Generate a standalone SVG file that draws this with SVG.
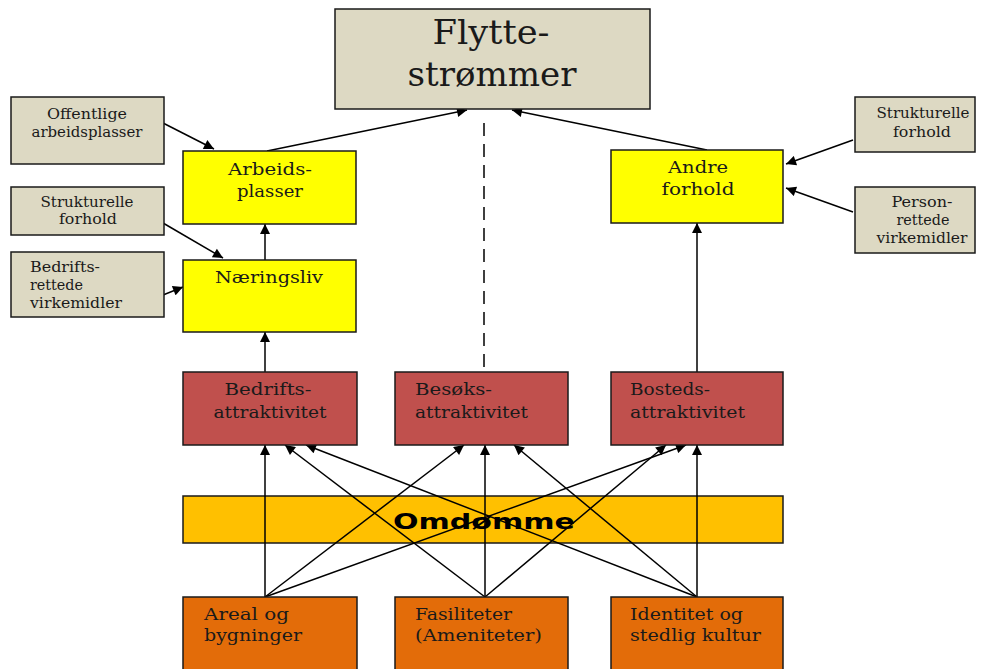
<svg xmlns="http://www.w3.org/2000/svg" width="981" height="669" viewBox="0 0 981 669">
<style>
.box{stroke:#1a1a1a;stroke-width:1.5}
.gray{fill:#DDD9C3}
.yel{fill:#FFFF00}
.red{fill:#C0504D}
.omd{fill:#FFC000}
.org{fill:#E36C09}
text{font-family:"DejaVu Serif","Liberation Serif",serif;fill:#1a1a1a}
.s{font-size:14px}
.m{font-size:16px}
.t{font-size:33px}
.ln{stroke:#000;stroke-width:1.5;fill:none}
</style>
<defs>
<marker id="ah" viewBox="0 0 10 10" refX="10" refY="5" markerWidth="12" markerHeight="10" markerUnits="userSpaceOnUse" orient="auto">
<path d="M0,0 L10,5 L0,10 z" fill="#000"/>
</marker>
</defs>
<rect width="981" height="669" fill="#fff"/>

<g id="omdomme">
<rect class="box omd" x="183" y="496" width="600" height="47"/>
<text x="484" y="529" text-anchor="middle" style="font-family:'DejaVu Sans','Liberation Sans',sans-serif;font-size:22px;font-weight:bold;fill:#000" textLength="182" lengthAdjust="spacingAndGlyphs">Omdømme</text>
</g>

<g id="connectors">
<line class="ln" x1="267" y1="151" x2="467" y2="110" marker-end="url(#ah)"/>
<line class="ln" x1="707" y1="150" x2="512" y2="110" marker-end="url(#ah)"/>
<line class="ln" x1="484" y1="123" x2="484" y2="372" stroke-dasharray="13,8"/>
<line class="ln" x1="163" y1="123" x2="214" y2="149" marker-end="url(#ah)"/>
<line class="ln" x1="163" y1="223" x2="223" y2="258" marker-end="url(#ah)"/>
<line class="ln" x1="163" y1="295" x2="183" y2="287" marker-end="url(#ah)"/>
<line class="ln" x1="265" y1="260" x2="265" y2="224" marker-end="url(#ah)"/>
<line class="ln" x1="265" y1="372" x2="265" y2="332" marker-end="url(#ah)"/>
<line class="ln" x1="853" y1="140" x2="786" y2="164" marker-end="url(#ah)"/>
<line class="ln" x1="853" y1="212" x2="786" y2="188" marker-end="url(#ah)"/>
<line class="ln" x1="697" y1="372" x2="697" y2="223" marker-end="url(#ah)"/>
<line class="ln" x1="265" y1="597" x2="265" y2="445" marker-end="url(#ah)"/>
<line class="ln" x1="265" y1="597" x2="464" y2="445" marker-end="url(#ah)"/>
<line class="ln" x1="265" y1="597" x2="686" y2="445" marker-end="url(#ah)"/>
<line class="ln" x1="485" y1="597" x2="285" y2="445" marker-end="url(#ah)"/>
<line class="ln" x1="485" y1="597" x2="485" y2="445" marker-end="url(#ah)"/>
<line class="ln" x1="485" y1="597" x2="666" y2="445" marker-end="url(#ah)"/>
<line class="ln" x1="697" y1="597" x2="306" y2="445" marker-end="url(#ah)"/>
<line class="ln" x1="697" y1="597" x2="514" y2="445" marker-end="url(#ah)"/>
<line class="ln" x1="697" y1="597" x2="697" y2="445" marker-end="url(#ah)"/>
</g>

<g id="flyttestrommer">
<rect class="box gray" x="335" y="9" width="315" height="100"/>
<text class="t" x="491" y="44" text-anchor="middle" textLength="117" lengthAdjust="spacingAndGlyphs">Flytte-</text>
<text class="t" x="492" y="86" text-anchor="middle" textLength="169" lengthAdjust="spacingAndGlyphs">strømmer</text>
</g>

<g id="offentlige">
<rect class="box gray" x="11" y="97" width="153" height="67"/>
<text class="s" x="87" y="119" text-anchor="middle" textLength="80" lengthAdjust="spacingAndGlyphs">Offentlige</text>
<text class="s" x="87" y="137" text-anchor="middle" textLength="111" lengthAdjust="spacingAndGlyphs">arbeidsplasser</text>
</g>

<g id="strukturelle-venstre">
<rect class="box gray" x="11" y="187" width="153" height="48"/>
<text class="s" x="87" y="207" text-anchor="middle" textLength="93" lengthAdjust="spacingAndGlyphs">Strukturelle</text>
<text class="s" x="88" y="224" text-anchor="middle" textLength="58" lengthAdjust="spacingAndGlyphs">forhold</text>
</g>

<g id="bedriftsrettede">
<rect class="box gray" x="11" y="252" width="153" height="65"/>
<text class="s" x="30" y="272" textLength="70" lengthAdjust="spacingAndGlyphs">Bedrifts-</text>
<text class="s" x="30" y="290" textLength="53" lengthAdjust="spacingAndGlyphs">rettede</text>
<text class="s" x="30" y="308" textLength="92" lengthAdjust="spacingAndGlyphs">virkemidler</text>
</g>

<g id="arbeidsplasser">
<rect class="box yel" x="183" y="151" width="173" height="73"/>
<text class="m" x="270" y="175" text-anchor="middle" textLength="84" lengthAdjust="spacingAndGlyphs">Arbeids-</text>
<text class="m" x="270" y="197" text-anchor="middle" textLength="66" lengthAdjust="spacingAndGlyphs">plasser</text>
</g>

<g id="naeringsliv">
<rect class="box yel" x="183" y="260" width="173" height="72"/>
<text class="m" x="269" y="283" text-anchor="middle" textLength="108" lengthAdjust="spacingAndGlyphs">Næringsliv</text>
</g>

<g id="andre-forhold">
<rect class="box yel" x="611" y="150" width="172" height="73"/>
<text class="m" x="698" y="173" text-anchor="middle" textLength="60" lengthAdjust="spacingAndGlyphs">Andre</text>
<text class="m" x="698" y="195" text-anchor="middle" textLength="73" lengthAdjust="spacingAndGlyphs">forhold</text>
</g>

<g id="strukturelle-hoyre">
<rect class="box gray" x="855" y="97" width="120" height="55"/>
<text class="s" x="923" y="118" text-anchor="middle" textLength="93" lengthAdjust="spacingAndGlyphs">Strukturelle</text>
<text class="s" x="922" y="137" text-anchor="middle" textLength="58" lengthAdjust="spacingAndGlyphs">forhold</text>
</g>

<g id="personrettede">
<rect class="box gray" x="855" y="187" width="120" height="66"/>
<text class="s" x="922" y="207" text-anchor="middle" textLength="61" lengthAdjust="spacingAndGlyphs">Person-</text>
<text class="s" x="923" y="225" text-anchor="middle" textLength="53" lengthAdjust="spacingAndGlyphs">rettede</text>
<text class="s" x="922" y="243" text-anchor="middle" textLength="91" lengthAdjust="spacingAndGlyphs">virkemidler</text>
</g>

<g id="bedriftsattraktivitet">
<rect class="box red" x="183" y="372" width="174" height="73"/>
<text class="m" x="268" y="395" text-anchor="middle" textLength="87" lengthAdjust="spacingAndGlyphs">Bedrifts-</text>
<text class="m" x="270" y="418" text-anchor="middle" textLength="113" lengthAdjust="spacingAndGlyphs">attraktivitet</text>
</g>

<g id="besoksattraktivitet">
<rect class="box red" x="395" y="372" width="173" height="73"/>
<text class="m" x="415" y="395" textLength="77" lengthAdjust="spacingAndGlyphs">Besøks-</text>
<text class="m" x="415" y="418" textLength="113" lengthAdjust="spacingAndGlyphs">attraktivitet</text>
</g>

<g id="bostedsattraktivitet">
<rect class="box red" x="611" y="372" width="172" height="73"/>
<text class="m" x="630" y="395" textLength="80" lengthAdjust="spacingAndGlyphs">Bosteds-</text>
<text class="m" x="630" y="418" textLength="115" lengthAdjust="spacingAndGlyphs">attraktivitet</text>
</g>

<g id="areal">
<rect class="box org" x="183" y="597" width="174" height="80"/>
<text class="m" x="204" y="620" textLength="85" lengthAdjust="spacingAndGlyphs">Areal og</text>
<text class="m" x="204" y="641" textLength="98" lengthAdjust="spacingAndGlyphs">bygninger</text>
</g>

<g id="fasiliteter">
<rect class="box org" x="395" y="597" width="173" height="80"/>
<text class="m" x="415" y="620" textLength="97" lengthAdjust="spacingAndGlyphs">Fasiliteter</text>
<text class="m" x="415" y="641" textLength="127" lengthAdjust="spacingAndGlyphs">(Ameniteter)</text>
</g>

<g id="identitet">
<rect class="box org" x="611" y="597" width="172" height="80"/>
<text class="m" x="630" y="620" textLength="113" lengthAdjust="spacingAndGlyphs">Identitet og</text>
<text class="m" x="630" y="641" textLength="131" lengthAdjust="spacingAndGlyphs">stedlig kultur</text>
</g>
</svg>
